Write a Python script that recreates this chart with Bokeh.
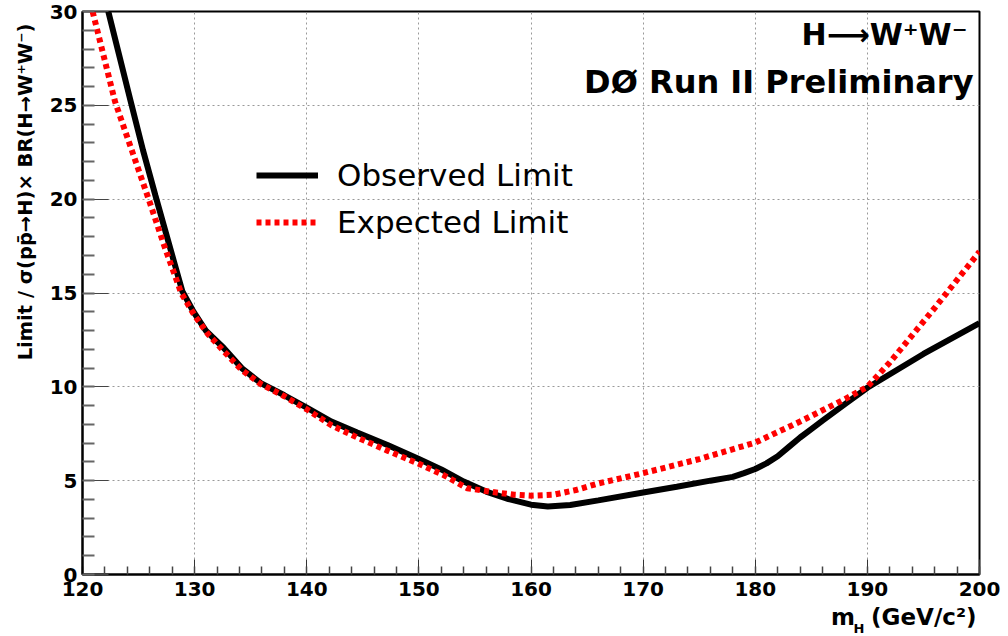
from bokeh.plotting import figure
from bokeh.models import Range1d, SingleIntervalTicker, Label, Legend, LegendItem, Title
from bokeh.embed import file_html
from bokeh.resources import INLINE

# Observed limit (black solid)
obs_mass = [122.3, 123.3, 124.3, 125.4, 126.5, 127.3, 128.1, 128.9, 129.9, 131.0, 132.6, 134.2,
            135.9, 138.0, 140.0, 142.2, 144.5, 147.2, 150.0, 152.0, 154.0, 156.0, 158.0, 160.0,
            161.5, 163.5, 166.0, 170.0, 173.0, 176.0, 178.0, 179.0, 180.0, 181.0, 182.0, 183.0,
            184.0, 185.0, 186.0, 188.0, 190.0, 195.0, 200.0]
obs_limit = [30.0, 27.6, 25.2, 22.6, 20.2, 18.5, 16.8, 15.1, 14.0, 13.0, 12.07, 11.0,
             10.2, 9.55, 8.89, 8.15, 7.56, 6.9, 6.15, 5.6, 4.95, 4.42, 4.02, 3.72,
             3.62, 3.7, 3.95, 4.37, 4.68, 5.0, 5.2, 5.4, 5.62, 5.92, 6.3, 6.8,
             7.3, 7.75, 8.2, 9.08, 9.95, 11.75, 13.4]

# Expected limit (red dotted)
exp_mass = [120.9, 121.9, 122.9, 124.4, 125.9, 127.3, 128.8, 130.0, 131.2, 132.6, 134.2, 135.9,
            138.0, 140.0, 142.2, 144.5, 147.2, 150.0, 152.2, 154.3, 156.5, 158.5, 160.0, 162.0,
            164.0, 166.0, 170.0, 175.0, 180.0, 184.0, 186.0, 188.0, 190.0, 192.0, 194.0, 196.0,
            198.0, 200.0]
exp_limit = [30.0, 27.6, 25.2, 22.6, 20.0, 17.5, 15.0, 13.8, 12.8, 11.9, 10.9, 10.15,
             9.5, 8.8, 7.95, 7.3, 6.6, 5.9, 5.3, 4.6, 4.4, 4.25, 4.2, 4.25,
             4.5, 4.85, 5.4, 6.15, 7.03, 8.15, 8.75, 9.35, 10.0, 11.3, 12.75, 14.2,
             15.7, 17.2]

legend_labels = ["Observed Limit", "Expected Limit"]
title_line1 = "H\u27f6W\u207aW\u207b"
title_line2 = "D\u00d8 Run II Preliminary"
y_title = "Limit / \u03c3(pp\u0304\u2192H)\u00d7 BR(H\u2192W\u207aW\u207b)"
x_title_main = "m\u00a0\u00a0(GeV/c\u00b2)"
x_title_sub = "H"

FONT = "DejaVu Sans"
W, H = 1004, 634

p = figure(width=W, height=H, x_range=Range1d(120, 200), y_range=Range1d(0, 30),
           output_backend="svg", toolbar_location=None,
           min_border_left=82, min_border_right=W - 979, min_border_top=11, min_border_bottom=H - 574)

p.outline_line_color = "black"
p.outline_line_width = 2

p.xaxis.ticker = SingleIntervalTicker(interval=10, num_minor_ticks=5)
p.yaxis.ticker = SingleIntervalTicker(interval=5, num_minor_ticks=5)

for ax in (p.xaxis, p.yaxis):
    ax.axis_line_color = "black"
    ax.axis_line_width = 2
    ax.major_tick_out = 0
    ax.minor_tick_out = 0
    ax.major_label_text_font = FONT
    ax.major_label_text_font_style = "bold"
    ax.major_label_text_font_size = "20px"
    ax.major_label_text_color = "black"

p.xaxis.major_tick_in = 15
p.xaxis.minor_tick_in = 8
p.xaxis.major_tick_line_color = "#333333"
p.xaxis.minor_tick_line_color = "#444444"
p.xaxis.minor_tick_line_width = 1.5
p.xaxis.major_label_standoff = 7

p.yaxis.major_tick_in = 26
p.yaxis.minor_tick_in = 12
p.yaxis.major_tick_line_color = "#444444"
p.yaxis.minor_tick_line_color = "#666666"
p.yaxis.minor_tick_line_width = 2
p.yaxis.major_label_standoff = 5

for g in (p.xgrid, p.ygrid):
    g.grid_line_color = "#999999"
    g.grid_line_dash = "2 3"
    g.grid_line_width = 1

r_obs = p.line(obs_mass, obs_limit, line_color="black", line_width=6)
r_exp = p.line(exp_mass, exp_limit, line_color="#ff0000", line_width=6, line_dash="5 4")

legend = Legend(items=[LegendItem(label=legend_labels[0], renderers=[r_obs]),
                       LegendItem(label=legend_labels[1], renderers=[r_exp])],
                location=(174, 334), glyph_width=62, glyph_height=30, label_height=30,
                label_standoff=19, spacing=11, padding=0, margin=0,
                border_line_color=None, background_fill_alpha=0,
                label_text_font=FONT, label_text_font_size="31px", label_text_color="black")
p.add_layout(legend)

p.add_layout(Label(x=885, y=540, x_units="screen", y_units="screen", text=title_line1,
                   text_align="right", text_baseline="alphabetic", text_font=FONT,
                   text_font_style="bold", text_font_size="30px", text_color="black"))
p.add_layout(Label(x=891, y=493, x_units="screen", y_units="screen", text=title_line2,
                   text_align="right", text_baseline="alphabetic", text_font=FONT,
                   text_font_style="bold", text_font_size="32px", text_color="black"))

# axis titles as side titles (aligned to the axis end, ROOT style)
p.add_layout(Title(text=y_title, align="right", offset=12, standoff=20, text_font=FONT,
                   text_font_style="bold", text_font_size="19.5px", text_color="black"), "left")
p.add_layout(Title(text=x_title_main, align="right", offset=3, standoff=6, text_font=FONT,
                   text_font_style="bold", text_font_size="23px", text_color="black"), "below")
p.add_layout(Title(text=x_title_sub, align="right", offset=115, standoff=-24, vertical_align="top",
                   text_font=FONT, text_font_style="bold", text_font_size="13px",
                   text_color="black"), "below")

open("out.html", "w").write(file_html(p, INLINE))
